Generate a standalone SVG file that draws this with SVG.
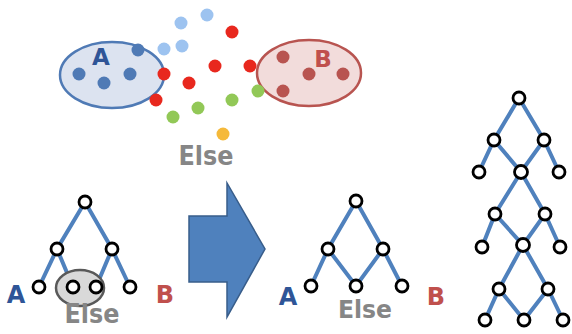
<svg xmlns="http://www.w3.org/2000/svg" width="572" height="334" viewBox="0 0 572 334">
<style>
.lbl{font-family:"DejaVu Sans",Verdana,sans-serif;font-weight:bold;text-anchor:middle}
.a{fill:#2f5597}
.b{fill:#c0504d}
.e{fill:#868686}
.n{fill:#ffffff;stroke:#000000;stroke-width:2.8}
.ed{stroke:#4f81bd;stroke-width:4;fill:none;stroke-linecap:round}
</style>
<rect width="572" height="334" fill="#ffffff"/>
<g id="cluster-a">
<ellipse cx="112" cy="75" rx="52" ry="33" fill="#dce3f0" stroke="#4f7ab5" stroke-width="2.5"/>
<text class="lbl a" x="101" y="65" font-size="23">A</text>
<g fill="#4f7ab5">
<circle cx="79" cy="74" r="6.5"/><circle cx="104" cy="83" r="6.5"/><circle cx="130" cy="74" r="6.5"/><circle cx="138" cy="50" r="6.5"/>
</g>
</g>
<g id="cluster-b">
<ellipse cx="309" cy="73" rx="52" ry="33" fill="#f2dcdb" stroke="#b85450" stroke-width="2.5"/>
<text class="lbl b" x="323" y="67" font-size="23">B</text>
<g fill="#b85450">
<circle cx="283" cy="57" r="6.5"/><circle cx="309" cy="74" r="6.5"/><circle cx="343" cy="74" r="6.5"/><circle cx="283" cy="91" r="6.5"/>
</g>
</g>
<g id="scatter">
<g fill="#9dc3f0">
<circle cx="207" cy="15" r="6.5"/><circle cx="181" cy="23" r="6.5"/><circle cx="182" cy="46" r="6.5"/><circle cx="164" cy="49" r="6.5"/>
</g>
<g fill="#e8281e">
<circle cx="232" cy="32" r="6.5"/><circle cx="215" cy="66" r="6.5"/><circle cx="250" cy="66" r="6.5"/><circle cx="164" cy="74" r="6.5"/><circle cx="189" cy="83" r="6.5"/><circle cx="156" cy="100" r="6.5"/>
</g>
<g fill="#92c857">
<circle cx="258" cy="91" r="6.5"/><circle cx="232" cy="100" r="6.5"/><circle cx="198" cy="108" r="6.5"/><circle cx="173" cy="117" r="6.5"/>
</g>
<circle cx="223" cy="134" r="6.5" fill="#f5b93a"/>
<text class="lbl e" x="206" y="165" font-size="27" textLength="55" lengthAdjust="spacingAndGlyphs">Else</text>
</g>
<g id="arrow">
<polygon points="189,216 227,216 227,183 265,249 227,317 227,282 189,282" fill="#4f81bd" stroke="#385d8a" stroke-width="1.5"/>
</g>
<g id="connectors">
<g class="ed">
<path d="M85,202 L57,249 L39,287 M57,249 L73,287 M85,202 L112,249 L96,287 M112,249 L130,287"/>
<path d="M356,201 L328,249 L311,286 M328,249 L356,286 L383,249 L402,286 M356,201 L383,249"/>
<path d="M519,98 L494,140 L479,172 M494,140 L521,172 L544,140 L559,172 M519,98 L544,140 M521,172 L495,214 L482,247 M495,214 L523,245 L545,214 L560,247 M521,172 L545,214 M523,245 L499,289 L485,320 M499,289 L524,320 L548,289 L563,320 M523,245 L548,289"/>
</g>
</g>
<g id="tree-left">
<ellipse cx="80" cy="288" rx="24" ry="18" fill="#d9d9d9" stroke="#595959" stroke-width="2.5"/>
<circle class="n" cx="85" cy="202" r="6"/>
<circle class="n" cx="57" cy="249" r="6"/><circle class="n" cx="112" cy="249" r="6"/>
<circle class="n" cx="39" cy="287" r="6"/><circle class="n" cx="73" cy="287" r="6"/><circle class="n" cx="96" cy="287" r="6"/><circle class="n" cx="130" cy="287" r="6"/>
<text class="lbl a" x="16" y="303" font-size="24">A</text>
<text class="lbl b" x="165" y="303" font-size="24">B</text>
<text class="lbl e" x="92" y="323" font-size="27" textLength="55" lengthAdjust="spacingAndGlyphs">Else</text>
</g>
<g id="tree-middle">
<circle class="n" cx="356" cy="201" r="6"/>
<circle class="n" cx="328" cy="249" r="6"/><circle class="n" cx="383" cy="249" r="6"/>
<circle class="n" cx="311" cy="286" r="6"/><circle class="n" cx="356" cy="286" r="6"/><circle class="n" cx="402" cy="286" r="6"/>
<text class="lbl a" x="288" y="305" font-size="24">A</text>
<text class="lbl b" x="436" y="305" font-size="24">B</text>
<text class="lbl e" x="365" y="318" font-size="25" textLength="54" lengthAdjust="spacingAndGlyphs">Else</text>
</g>
<g id="tree-right">
<circle class="n" cx="519" cy="98" r="6"/>
<circle class="n" cx="494" cy="140" r="6"/><circle class="n" cx="544" cy="140" r="6"/>
<circle class="n" cx="479" cy="172" r="6"/><circle class="n" cx="521" cy="172" r="6.5"/><circle class="n" cx="559" cy="172" r="6"/>
<circle class="n" cx="495" cy="214" r="6"/><circle class="n" cx="545" cy="214" r="6"/>
<circle class="n" cx="482" cy="247" r="6"/><circle class="n" cx="523" cy="245" r="6.5"/><circle class="n" cx="560" cy="247" r="6"/>
<circle class="n" cx="499" cy="289" r="6"/><circle class="n" cx="548" cy="289" r="6"/>
<circle class="n" cx="485" cy="320" r="6"/><circle class="n" cx="524" cy="320" r="6"/><circle class="n" cx="563" cy="320" r="6"/>
</g>
</svg>
